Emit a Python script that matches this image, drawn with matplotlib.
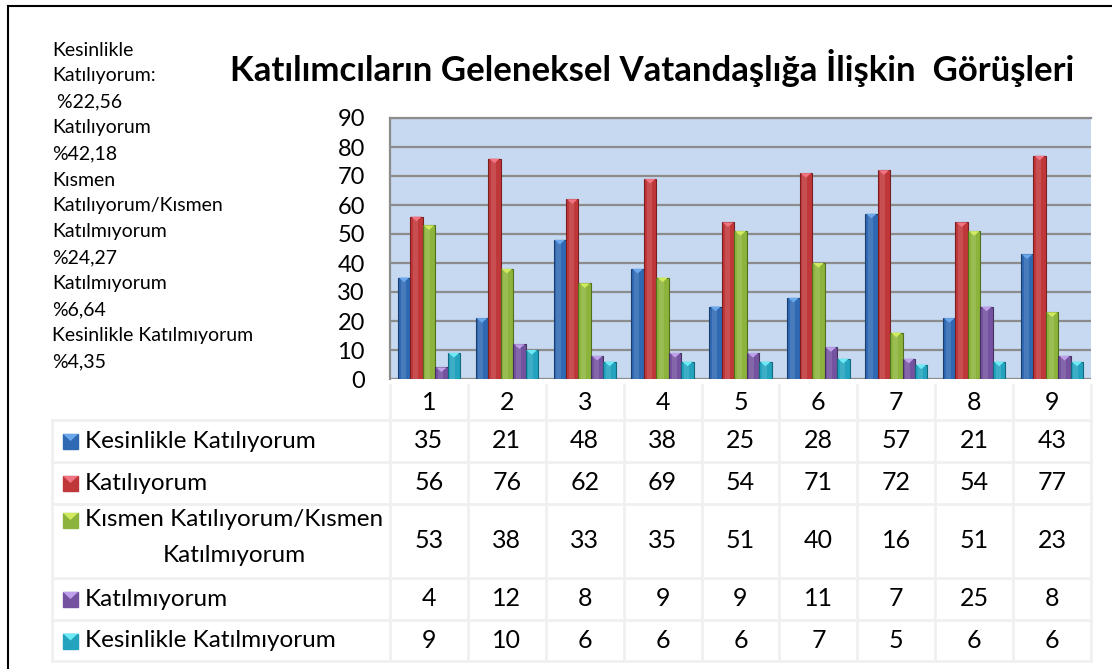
import matplotlib
matplotlib.use("Agg")
import matplotlib.pyplot as plt
import matplotlib.patches as mpatches
import numpy as np

plt.rcParams['font.family'] = ['Lato', 'DejaVu Sans']

title = "Katılımcıların Geleneksel Vatandaşlığa İlişkin  Görüşleri"
items = ["1", "2", "3", "4", "5", "6", "7", "8", "9"]
series = ["Kesinlikle Katılıyorum", "Katılıyorum",
          "Kısmen Katılıyorum/Kısmen\nKatılmıyorum", "Katılmıyorum",
          "Kesinlikle Katılmıyorum"]
kesinlikle_katiliyorum = [35, 21, 48, 38, 25, 28, 57, 21, 43]
katiliyorum = [56, 76, 62, 69, 54, 71, 72, 54, 77]
kismen = [53, 38, 33, 35, 51, 40, 16, 51, 23]
katilmiyorum = [4, 12, 8, 9, 9, 11, 7, 25, 8]
kesinlikle_katilmiyorum = [9, 10, 6, 6, 6, 7, 5, 6, 6]
values = [kesinlikle_katiliyorum, katiliyorum, kismen, katilmiyorum,
          kesinlikle_katilmiyorum]

# side note (percentages per answer)
side_labels = [["Kesinlikle", "Katılıyorum:"], ["Katılıyorum"],
               ["Kısmen", "Katılıyorum/Kısmen", "Katılmıyorum"],
               ["Katılmıyorum"], ["Kesinlikle Katılmıyorum"]]
side_pct = ["22,56", "42,18", "24,27", "6,64", "4,35"]

COLORS = ["#2F69B3", "#C0373A", "#8CB33C", "#7452A0", "#23A3BE"]
EDGES = ["#1B3E6E", "#7A1E20", "#52701C", "#45305F", "#136A7C"]
TIPS = ["#6AA8EE", "#F07482", "#D2EA5E", "#BFA0EA", "#6CEAF6"]

W, H = 1112, 669
fig = plt.figure(figsize=(W / 100, H / 100), dpi=100)

def px_rect(l, t, r, b):
    return [l / W, 1 - b / H, (r - l) / W, (b - t) / H]

# frame of the slide
frame = fig.add_axes([0, 0, 1, 1])
frame.set_xlim(0, W)
frame.set_ylim(H, 0)
frame.axis("off")
frame.plot([8, W], [6, 6], color="black", lw=1.5)
frame.plot([8, 8], [6, H], color="black", lw=1.5)

fig.text(652 / W, 1 - 68 / H, title, ha="center", va="center",
         fontsize=25, fontweight="bold")

# left side note
y = 50
for i, lines in enumerate(side_labels):
    for ln in lines:
        fig.text(52 / W, 1 - y / H, ln, ha="left", va="center", fontsize=14)
        y += 26
    pre = " " if i == 0 else ""
    fig.text(52 / W, 1 - y / H, pre + "%" + side_pct[i], ha="left",
             va="center", fontsize=14)
    y += 26

# bar chart
ax = fig.add_axes(px_rect(390, 118, 1091, 379))
ax.set_facecolor("#C6D9F1")
n = len(series)
bw = 0.16
x = np.arange(len(items))
for si in range(n):
    xs = x - 0.4 + bw / 2 + si * bw
    ax.bar(xs, values[si], bw, color=COLORS[si], edgecolor=EDGES[si],
           linewidth=0.8, zorder=3)
    # soft highlight down the middle of each bar
    ax.bar(xs - bw * 0.08, values[si], bw * 0.4, color="white", alpha=0.12,
           linewidth=0, zorder=3.5)
    for xi, v in zip(xs, values[si]):
        tri = mpatches.Polygon([[xi - bw / 2 + 0.01, v], [xi + bw / 2 - 0.01, v],
                                [xi, v - 1.6]], closed=True,
                               color=TIPS[si], zorder=4, lw=0)
        ax.add_patch(tri)
ax.set_xlim(-0.5, len(items) - 0.5)
ax.set_ylim(0, 90)
ax.set_yticks(range(0, 91, 10))
ax.tick_params(axis="y", labelsize=17, length=0, pad=18)
ax.set_xticks([])
ax.yaxis.grid(True, color="#8C8C8C", linewidth=1.6, zorder=0)
ax.set_axisbelow(True)
for s in ["right", "bottom"]:
    ax.spines[s].set_visible(False)
for s in ["left", "top"]:
    ax.spines[s].set_color("#8C8C8C")
    ax.spines[s].set_linewidth(1.6)

# data table
tb = fig.add_axes(px_rect(40, 383, 1100, 664))
tb.set_xlim(40, 1100)
tb.set_ylim(664, 383)
tb.axis("off")
col_left, col_w = 390, 701 / 9
row_edges = [385, 420, 462, 504, 578, 620, 661]
line_c = "#F0F0F0"
for yy in row_edges[1:]:
    tb.plot([52, 1091], [yy, yy], color=line_c, lw=2)
for k in range(len(items) + 1):
    xx = col_left + k * col_w
    tb.plot([xx, xx], [row_edges[0], row_edges[-1]], color=line_c, lw=2)
tb.plot([52, 52], [row_edges[1], row_edges[-1]], color=line_c, lw=2)
for k, it in enumerate(items):
    tb.text(col_left + (k + 0.5) * col_w, 403, it, ha="center", va="center",
            fontsize=18)
for si in range(n):
    top, bot = row_edges[si + 1], row_edges[si + 2]
    yc = (top + bot) / 2
    label = series[si]
    if "\n" in label:
        first, second = label.split("\n")
        ty = yc - 21
        tb.text(85, ty, first, ha="left", va="center", fontsize=17.5)
        tb.text(234, ty + 35, second, ha="center", va="center", fontsize=17.5)
        my = ty
    else:
        tb.text(85, yc, label, ha="left", va="center", fontsize=17.5)
        my = yc
    tb.add_patch(mpatches.Rectangle((63, my - 7), 15, 15, color=COLORS[si]))
    tb.add_patch(mpatches.Polygon([[63, my - 7], [78, my - 7], [70.5, my]],
                                  color=TIPS[si], lw=0))
    for k, v in enumerate(values[si]):
        tb.text(col_left + (k + 0.5) * col_w, yc, str(v), ha="center",
                va="center", fontsize=18)

fig.savefig("out.png", dpi=100)
